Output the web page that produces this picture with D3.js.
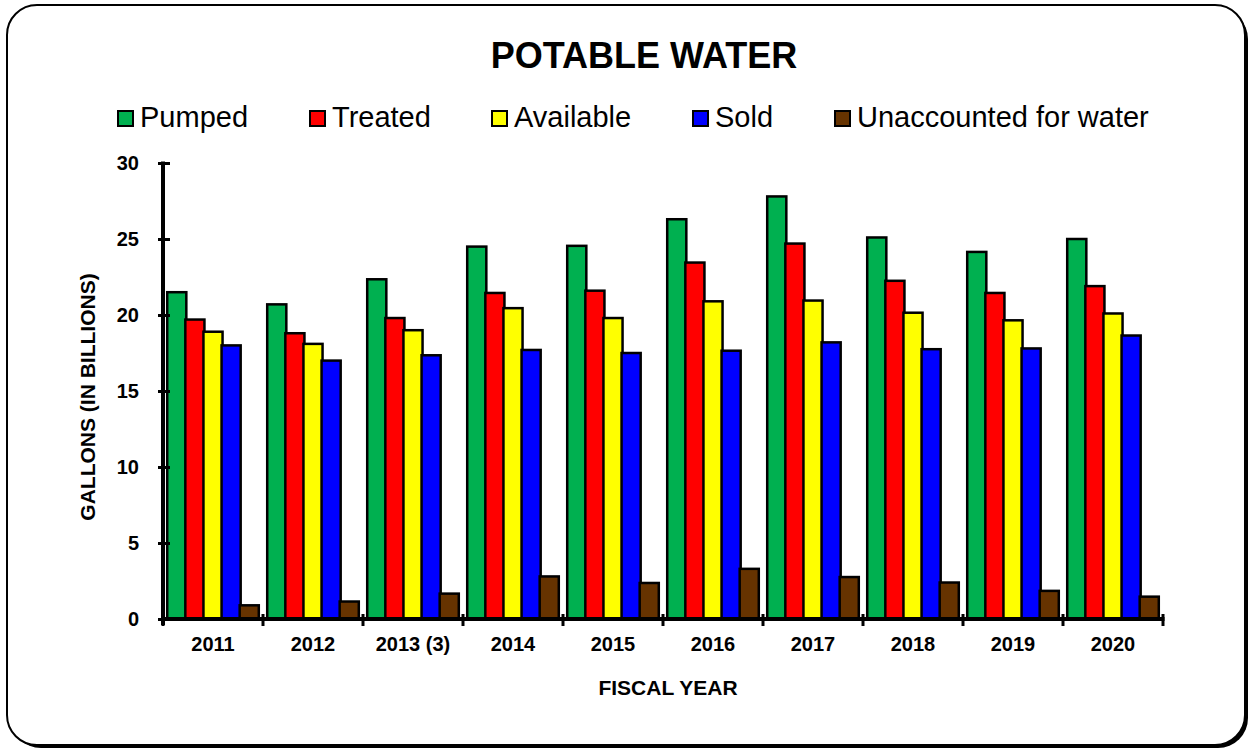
<!DOCTYPE html>
<html>
<head>
<meta charset="utf-8">
<script src="https://cdn.jsdelivr.net/npm/d3@7"></script>
<style>
  body { margin: 0; background: #fff; }
  text { font-family: "Liberation Sans", Arial, sans-serif; }
</style>
</head>
<body>
<div id="chart"></div>
<script>
const WIDTH = 1249
const HEIGHT = 750
const MARGIN = {top: 163, right: 82, bottom: 131, left: 163}

// data
const years = ['2011', '2012', '2013 (3)', '2014', '2015', '2016', '2017', '2018', '2019', '2020']
const seriesNames = ['Pumped', 'Treated', 'Available', 'Sold', 'Unaccounted for water']
const seriesColors = ['#00B050', '#FF0000', '#FFFF00', '#0000FF', '#663300']
const pumped    = [21.5, 20.7, 22.35, 24.5, 24.55, 26.3, 27.8, 25.1, 24.15, 25.0]
const treated   = [19.7, 18.8, 19.8, 21.45, 21.6, 23.45, 24.7, 22.25, 21.45, 21.9]
const available = [18.9, 18.1, 19.0, 20.45, 19.8, 20.9, 20.95, 20.15, 19.65, 20.1]
const sold      = [18.0, 17.0, 17.35, 17.7, 17.5, 17.65, 18.2, 17.75, 17.8, 18.65]
const unaccounted = [0.9, 1.15, 1.67, 2.8, 2.37, 3.3, 2.76, 2.4, 1.85, 1.47]
const yTicks = [0, 5, 10, 15, 20, 25, 30]

const allSeries = [pumped, treated, available, sold, unaccounted]

let svg = d3.select('#chart')
    .append('svg')
    .attr('width', WIDTH)
    .attr('height', HEIGHT)

// frame with a drop shadow
svg.append('rect')
    .attr('x', 11).attr('y', 9)
    .attr('width', 1237).attr('height', 739)
    .attr('rx', 30).attr('ry', 30)
    .attr('fill', '#000')
svg.append('rect')
    .attr('x', 7).attr('y', 5)
    .attr('width', 1238).attr('height', 740)
    .attr('rx', 30).attr('ry', 30)
    .attr('fill', '#fff')
    .attr('stroke', '#000')
    .attr('stroke-width', 2)

svg.append('text')
    .text('POTABLE WATER')
    .attr('x', 644)
    .attr('y', 68)
    .attr('text-anchor', 'middle')
    .style('font-size', '36px')
    .style('font-weight', 'bold')

// legend
const legendX = [118, 310, 492, 693, 835]
let legend = svg.append('g')
legend.selectAll('rect')
    .data(seriesNames)
    .join('rect')
    .attr('x', (d, i) => legendX[i])
    .attr('y', 111)
    .attr('width', 15)
    .attr('height', 15)
    .attr('fill', (d, i) => seriesColors[i])
    .attr('stroke', '#000')
    .attr('stroke-width', 2)
legend.selectAll('text')
    .data(seriesNames)
    .join('text')
    .attr('x', (d, i) => legendX[i] + 22)
    .attr('y', 127)
    .text(d => d)
    .style('font-size', '29px')

let x0 = d3.scaleBand()
    .domain(years)
    .range([MARGIN.left, WIDTH - MARGIN.right - 4])
    .paddingInner(0)
    .paddingOuter(0)

let x1 = d3.scaleBand()
    .domain(d3.range(seriesNames.length))
    .range([0, x0.bandwidth()])
    .paddingOuter(0.26)
    .paddingInner(0)

let y = d3.scaleLinear()
    .domain([0, 30])
    .range([619, 163])

// bars
let groups = svg.append('g')
    .selectAll('g')
    .data(years)
    .join('g')
    .attr('transform', d => `translate(${x0(d)},0)`)

groups.selectAll('rect')
    .data((d, yi) => allSeries.map((s, si) => ({si: si, v: s[yi]})))
    .join('rect')
    .attr('x', d => x1(d.si) - 0.5)
    .attr('y', d => y(d.v))
    .attr('width', x1.bandwidth() + 1)
    .attr('height', d => y(0) - y(d.v))
    .attr('fill', d => seriesColors[d.si])
    .attr('stroke', '#000')
    .attr('stroke-width', 2.5)

// y axis
let yAxis = svg.append('g')
    .attr('transform', `translate(${MARGIN.left},0)`)
    .call(d3.axisLeft(y).tickValues(yTicks).tickSize(0).tickPadding(0).tickFormat(d3.format('d')))
yAxis.select('.domain').remove()
yAxis.selectAll('.tick text')
    .attr('x', -24)
    .style('font-size', '20px')
    .style('font-weight', 'bold')
    .style('font-family', '"Liberation Sans", Arial, sans-serif')
yAxis.selectAll('.tick').append('line')
    .attr('x1', -5).attr('x2', 7)
    .attr('stroke', '#000').attr('stroke-width', 3)
yAxis.append('line')
    .attr('x1', 0).attr('x2', 0)
    .attr('y1', y(30) - 1.5).attr('y2', y(0) + 6)
    .attr('stroke', '#000').attr('stroke-width', 4)

// x axis
let xEdges = years.map(d => x0(d)).concat([x0(years[years.length - 1]) + x0.bandwidth()])
let xAxis = svg.append('g')
xAxis.append('line')
    .attr('x1', MARGIN.left).attr('x2', xEdges[xEdges.length - 1] + 1.5)
    .attr('y1', y(0)).attr('y2', y(0))
    .attr('stroke', '#000').attr('stroke-width', 4)
xAxis.selectAll('.xtick')
    .data(xEdges)
    .join('line')
    .attr('class', 'xtick')
    .attr('x1', d => d).attr('x2', d => d)
    .attr('y1', y(0) - 5).attr('y2', y(0) + 7)
    .attr('stroke', '#000').attr('stroke-width', 3)
xAxis.selectAll('text')
    .data(years)
    .join('text')
    .attr('x', d => x0(d) + x0.bandwidth() / 2)
    .attr('y', 651)
    .attr('text-anchor', 'middle')
    .text(d => d)
    .style('font-size', '20px')
    .style('font-weight', 'bold')

svg.append('text')
    .text('FISCAL YEAR')
    .attr('x', 668)
    .attr('y', 695)
    .attr('text-anchor', 'middle')
    .style('font-size', '21px')
    .style('font-weight', 'bold')

svg.append('text')
    .text('GALLONS (IN BILLIONS)')
    .attr('transform', 'translate(95,397) rotate(-90)')
    .attr('text-anchor', 'middle')
    .style('font-size', '21px')
    .style('font-weight', 'bold')
</script>
</body>
</html>
